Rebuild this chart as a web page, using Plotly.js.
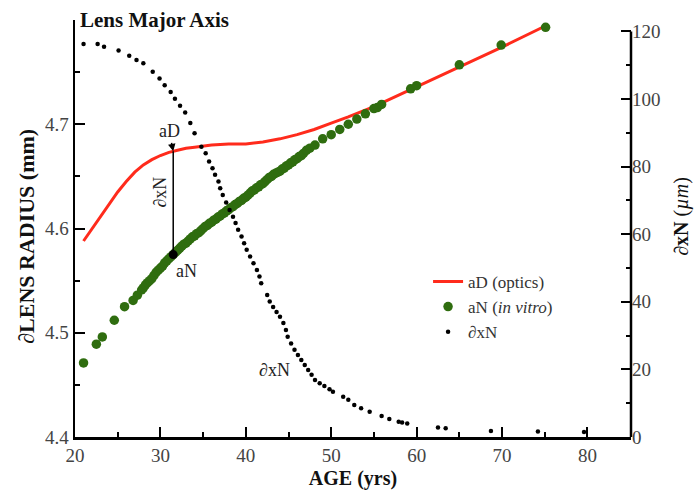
<!DOCTYPE html>
<html>
<head>
<meta charset="utf-8">
<script src="https://cdn.plot.ly/plotly-3.0.1.min.js"></script>
<style>html,body{margin:0;padding:0;background:#fff;}#chart{width:697px;height:490px;}</style>
</head>
<body>
<div id="chart"></div>
<script>
// aD (optics) curve
const ageD = [21,22,23,24,25,26,27,28,29,30,31,32,33,34,35,36,38,40,42,44,46,48,50,52,55,60,65,70,75];
const valD = [4.588,4.600,4.611,4.623,4.635,4.645,4.654,4.661,4.666,4.670,4.673,4.675,4.677,4.678,4.679,4.680,4.681,4.681,4.683,4.686,4.690,4.695,4.701,4.707,4.717,4.736,4.755,4.774,4.794];

// aN (in vitro) points
const ageN = [21.0,22.5,23.2,24.6,25.8,26.8,27.3,27.8,
  28.0,28.25,28.5,28.75,29.0,29.25,29.5,29.75,30.0,30.25,30.5,30.75,31.0,31.25,31.5,31.75,
  32.0,32.25,32.5,32.75,33.0,33.25,33.5,33.75,34.0,34.25,34.5,34.75,35.0,35.25,35.5,35.75,
  36.0,36.25,36.5,36.75,37.0,37.25,37.5,37.75,38.0,38.25,38.5,38.75,39.0,39.25,39.5,39.75,
  40.0,40.25,40.5,40.75,41.0,41.25,41.5,41.75,42.0,42.25,42.5,42.75,43.0,43.25,43.5,43.75,
  44.0,44.25,44.5,44.75,45.0,45.25,45.5,45.75,46.0,46.25,46.5,46.75,47.1,47.5,
  48.1,49.0,50.0,51.0,52.0,53.0,54.0,55.0,55.4,55.9,59.3,60.0,65.0,69.9,75.1];
const valN = [4.471,4.489,4.496,4.512,4.525,4.531,4.536,4.541,
  4.543,4.546,4.548,4.550,4.552,4.555,4.558,4.560,4.562,4.564,4.567,4.569,4.571,4.573,4.575,4.577,
  4.579,4.581,4.583,4.585,4.586,4.588,4.590,4.592,4.593,4.595,4.596,4.598,4.600,4.602,4.603,4.605,
  4.606,4.608,4.609,4.611,4.612,4.614,4.615,4.617,4.618,4.620,4.621,4.623,4.624,4.626,4.627,4.629,
  4.630,4.632,4.634,4.636,4.637,4.639,4.640,4.642,4.643,4.645,4.647,4.649,4.650,4.652,4.653,4.654,
  4.655,4.657,4.658,4.660,4.661,4.663,4.664,4.666,4.667,4.669,4.670,4.672,4.675,4.677,
  4.680,4.686,4.690,4.695,4.700,4.705,4.710,4.715,4.716,4.719,4.734,4.737,4.757,4.776,4.793];

// dxN (um) points, right axis
const ageX = [21.0,22.65,23.4,25.1,26.35,27.2,28.0,29.1,29.9,30.5,31.2,31.7,32.3,32.9,33.5,34.0,34.8,35.3,35.7,36.1,36.4,36.8,37.0,37.3,37.7,38.1,38.5,38.8,39.1,39.5,39.8,40.1,40.5,40.9,41.3,41.6,41.8,42.5,42.8,43.2,43.6,44.0,44.4,44.7,44.9,45.3,45.7,46.1,46.5,46.9,47.3,47.7,48.1,48.65,49.2,49.8,50.2,51.4,52.0,52.7,53.5,54.5,55.9,56.8,57.9,58.3,58.9,62.5,63.4,68.7,74.2,79.6];
const valX = [116.3,116.3,115.5,114.4,112.8,111.6,110.6,108.1,106.1,104.1,102.1,100.1,98.0,96.0,92.9,89.9,85.9,84.0,81.5,79.5,77.6,75.6,73.6,71.6,69.4,67.2,65.2,63.3,61.3,59.3,57.3,55.4,53.4,51.4,49.4,47.5,45.5,42.0,40.1,38.5,37.0,35.6,33.7,31.7,29.7,27.7,25.8,24.3,22.8,21.3,19.8,18.4,16.9,15.9,15.1,14.1,13.4,11.9,11.0,9.5,8.5,7.5,6.2,5.3,4.5,4.3,4.0,2.8,2.6,1.8,1.6,1.5];

// axis ticks
const xTicks = [20,30,40,50,60,70,80];
const yTicks = [4.4,4.5,4.6,4.7];
const yTickText = ["4.4","4.5","4.6","4.7"];
const y2Ticks = [0,20,40,60,80,100,120];

// marker for the dxN illustration
const markAge = 31.5;
const markD = 4.674;
const markN = 4.575;

const SERIF = '"Liberation Serif", "Times New Roman", serif';
const RED = '#ff2b1c';
const GREEN = '#2f6d0f';

const traces = [
  {x: ageD, y: valD, type: 'scatter', mode: 'lines', name: 'aD (optics)',
   line: {color: RED, width: 3}, hoverinfo: 'skip'},
  {x: ageN, y: valN, type: 'scatter', mode: 'markers', name: 'aN (<i>in vitro</i>)',
   marker: {color: GREEN, size: 9.5}, hoverinfo: 'skip'},
  {x: [markAge], y: [markN], type: 'scatter', mode: 'markers', showlegend: false,
   marker: {color: '#000', size: 9}, hoverinfo: 'skip'},
  {x: ageX, y: valX, type: 'scatter', mode: 'markers', name: '∂xN', yaxis: 'y2',
   marker: {color: '#000', size: 4.5}, hoverinfo: 'skip'}
];

const tickFont = {family: SERIF, size: 19, color: '#444'};

const layout = {
  width: 697, height: 490,
  margin: {l: 75, r: 66, t: 20, b: 53},
  paper_bgcolor: '#fff', plot_bgcolor: '#fff',
  showlegend: true,
  font: {family: SERIF, color: '#222'},
  title: {text: '<b>Lens Major Axis</b>', x: 80/697, xanchor: 'left', y: 1 - 20/490, yanchor: 'middle',
          font: {family: SERIF, size: 21, color: '#111'}},
  xaxis: {
    range: [20, 85.1], tickvals: xTicks, ticktext: xTicks.map(String),
    ticks: 'inside', ticklen: 10, tickwidth: 2, tickcolor: '#000',
    minor: {tickvals: [25,35,45,55,65,75], ticks: 'inside', ticklen: 5, tickwidth: 2, tickcolor: '#000'},
    showline: true, linecolor: '#000', linewidth: 2.5, showgrid: false, zeroline: false,
    tickfont: tickFont,
    title: {text: '<b>AGE (yrs)</b>', font: {family: SERIF, size: 20, color: '#111'}, standoff: 12}
  },
  yaxis: {
    range: [4.4, 4.8], tickvals: yTicks, ticktext: yTickText,
    ticks: 'inside', ticklen: 10, tickwidth: 2, tickcolor: '#000',
    minor: {tickvals: [4.45,4.55,4.65,4.75], ticks: 'inside', ticklen: 5, tickwidth: 2, tickcolor: '#000'},
    showline: true, linecolor: '#000', linewidth: 2.5, showgrid: false, zeroline: false,
    tickfont: tickFont
  },
  yaxis2: {
    overlaying: 'y', side: 'right',
    range: [0, 123.4], tickvals: y2Ticks, ticktext: y2Ticks.map(String),
    ticks: 'inside', ticklen: 10, tickwidth: 2, tickcolor: '#000',
    minor: {tickvals: [10,30,50,70,90,110], ticks: 'inside', ticklen: 5, tickwidth: 2, tickcolor: '#000'},
    showline: false, showgrid: false, zeroline: false,
    tickfont: tickFont
  },
  legend: {
    x: 0.635, y: 0.415, xanchor: 'left', yanchor: 'top',
    bgcolor: 'rgba(0,0,0,0)', font: {family: SERIF, size: 17, color: '#333'},
    tracegroupgap: 0, itemwidth: 30
  },
  shapes: [
    {type: 'line', xref: 'paper', yref: 'y2', x0: 1, x1: 1, y0: 0, y1: 120,
     line: {color: '#000', width: 2.5}},
    {type: 'line', xref: 'x', yref: 'y', x0: markAge, x1: markAge, y0: markN, y1: markD,
     line: {color: '#000', width: 1.5}}
  ],
  annotations: [
    {x: (27 - 75) / 556, y: 0.48, xref: 'paper', yref: 'paper', text: '∂<b>LENS RADIUS (mm)</b>',
     showarrow: false, textangle: -90, xanchor: 'center', yanchor: 'middle',
     font: {family: SERIF, size: 22, color: '#111'}},
    {x: 1 + (682 - 631) / 556, y: 0.528, xref: 'paper', yref: 'paper', text: '∂<b>xN</b> (<i>µm</i>)',
     showarrow: false, textangle: -90, xanchor: 'center', yanchor: 'middle',
     font: {family: SERIF, size: 20, color: '#111'}},
    {x: markAge, y: markD, xref: 'x', yref: 'y', text: 'aD', showarrow: true,
     arrowhead: 2, arrowsize: 1, arrowwidth: 1.5, arrowcolor: '#000', ax: -4, ay: -20,
     font: {family: SERIF, size: 18, color: '#222'}},
    {x: 29.9, y: 4.635, xref: 'x', yref: 'y', text: '∂xN', showarrow: false, textangle: -90,
     font: {family: SERIF, size: 18, color: '#222'}},
    {x: 33.0, y: 4.559, xref: 'x', yref: 'y', text: 'aN', showarrow: false,
     font: {family: SERIF, size: 18, color: '#222'}},
    {x: 43.3, y: 4.464, xref: 'x', yref: 'y', text: '∂xN', showarrow: false,
     font: {family: SERIF, size: 18, color: '#222'}}
  ]
};

Plotly.newPlot('chart', traces, layout, {displayModeBar: false, staticPlot: true});
</script>
</body>
</html>
